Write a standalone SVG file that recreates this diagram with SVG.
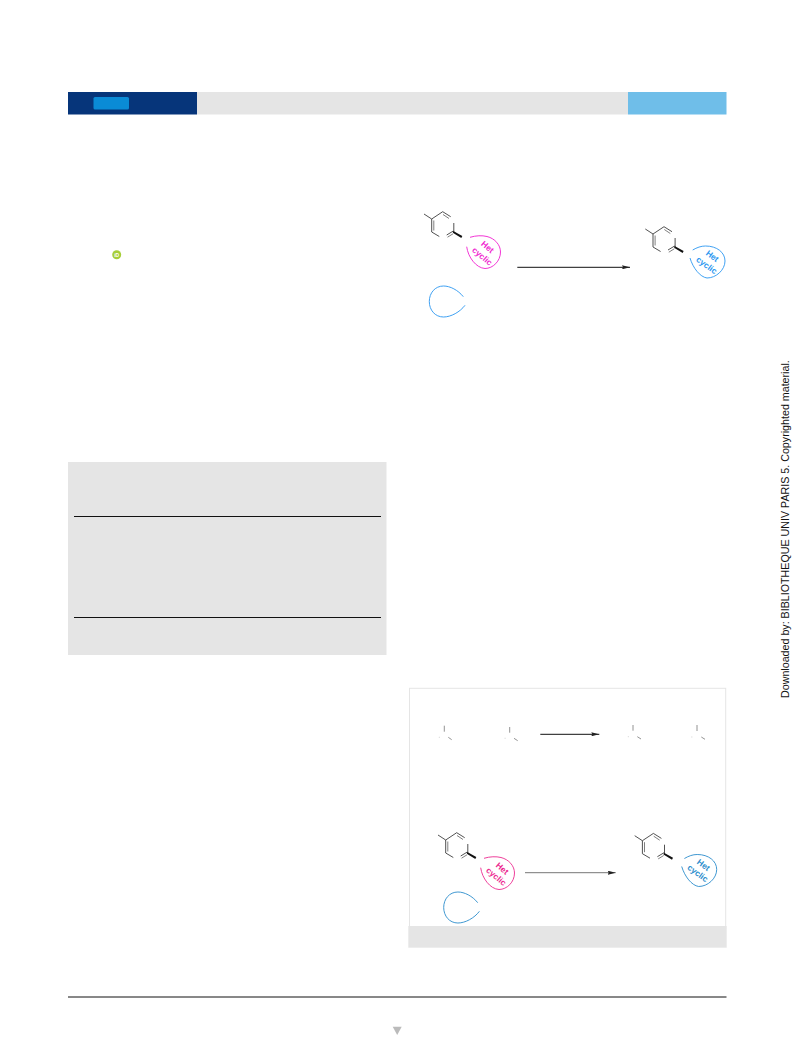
<svg xmlns="http://www.w3.org/2000/svg" width="793" height="1059" viewBox="0 0 793 1059">
<style>
.bond{fill:none;stroke:#333;stroke-width:.85}
.bond2{fill:none;stroke:#555;stroke-width:.75}
.wedge{fill:#111}
.blob{fill:none;stroke-width:.9}
.het{font-family:"Liberation Sans",Arial,sans-serif;font-weight:700;font-size:8.4px;text-anchor:middle}
.pink1{stroke:#f01fd0}.pink1t{fill:#f01fd0}
.blue1{stroke:#2a96f0}.blue1t{fill:#2a96f0}
.pink2{stroke:#ec2a90}.pink2t{fill:#ec2a90}
.blue2{stroke:#2a8ccc}.blue2t{fill:#2a8ccc}
.tick{stroke:#777;stroke-width:.8;fill:none}
.dot{stroke:#ccc;stroke-width:.7;fill:none}
.gray{fill:#e5e5e5}
.rule{stroke:#111;stroke-width:1;fill:none}
</style>
<defs>
<g id="mol">
<path class="bond" d="M424 214L431.700 219L442.700 211.700L450.700 216.700M453.800 223V232M446.700 235L453.300 231M431.700 219V232L439.300 236.500"/>
<path class="bond2" d="M443 214.500L449 218.500M433.800 220.500V230.500M447.500 237.200L453 233.800"/>
<polygon class="wedge" points="453.300,231 462.300,236 461.300,238 452.800,232.800"/>
</g>
<path id="blobL" d="M470 237.300C476 235.500 482 235.300 487 236.500C495 238.500 500.500 245 500.500 252C500.500 261 493 268.500 485 268.500C476 268 468 257 466.700 246.700"/>
<path id="blobR" d="M692.700 250C697 247.500 701 246 705.500 246C717 246 725 252.500 725 261C725 270 716 278 707 278C700 277 693 268 690 258"/>
<path id="loopshape" d="M463.300 296.700C458 290 450 286 443.500 286C435 286 429.300 293 429.300 301.500C429.300 310 435 317 443.500 317C451 317 460 312 465 305.300"/>
<marker id="ah" viewBox="0 0 8 4" refX="8" refY="2" markerWidth="8" markerHeight="4" markerUnits="userSpaceOnUse" orient="auto"><path d="M0 0L8 2L0 4L1 2Z" fill="#222"/></marker>
</defs>

<g id="header">
<rect x="68" y="92" width="129" height="22.500" fill="#06357a"/>
<rect x="93.500" y="97" width="35.500" height="12.500" rx="1.500" fill="#0a8bd6"/>
<rect class="gray" x="197" y="92" width="431" height="22.500"/>
<rect x="628" y="92" width="98.500" height="22.500" fill="#6fbee9"/>
</g>

<g id="orcid">
<circle cx="116.700" cy="254.700" r="4.500" fill="#a6ce39"/>
<text x="116.700" y="256.600" font-family="Liberation Sans, Arial, sans-serif" font-size="5" font-weight="700" text-anchor="middle" fill="#fff">iD</text>
</g>

<g id="table">
<rect class="gray" x="68" y="462" width="318.500" height="193"/>
<line class="rule" x1="74" y1="516.500" x2="381" y2="516.500"/>
<line class="rule" x1="74" y1="617.500" x2="381" y2="617.500"/>
</g>

<g id="top-reactant">
<use href="#mol"/>
<use href="#blobL" class="blob pink1"/>
<g class="pink1t">
<text class="het" transform="translate(485.700 249.100) rotate(40)">Het</text>
<text class="het" transform="translate(480.400 258.600) rotate(40)">cyclic</text>
</g>
</g>
<g id="top-reagent"><use href="#loopshape" class="blob blue1"/></g>
<g id="top-product">
<use href="#mol" transform="translate(221.300 15)"/>
<use href="#blobR" class="blob blue1"/>
<g class="blue1t">
<text class="het" transform="translate(710.600 258.400) rotate(36)">Het</text>
<text class="het" transform="translate(705 267.600) rotate(36)">cyclic</text>
</g>
</g>

<g id="scheme-frame">
<rect x="409.500" y="688.300" width="316.200" height="240" fill="none" stroke="#e5e5e5" stroke-width="1"/>
<rect class="gray" x="408.300" y="926" width="318.400" height="21.700"/>
</g>

<g id="fragment-1"><path class="tick" d="M444.300 725.700V731.700M448.300 737.300L451.700 739.700"/><path class="dot" d="M438.800 737.300H440"/></g>
<g id="fragment-2"><path class="tick" d="M509.700 727V732.700M514 738.300L517.700 740.700"/><path class="dot" d="M504.500 738.300H505.700"/></g>
<g id="fragment-3"><path class="tick" d="M633 725V730.700M637.300 736.700L641 739"/><path class="dot" d="M627.800 736.700H629"/></g>
<g id="fragment-4"><path class="tick" d="M697 725V731M701.300 737L705 739.300"/><path class="dot" d="M691.200 737H692.400"/></g>

<g id="bottom-reactant">
<use href="#mol" transform="translate(14 621)"/>
<use href="#blobL" class="blob pink2" transform="translate(14 621)"/>
<g class="pink2t">
<text class="het" transform="translate(500.400 870.600) rotate(40)">Het</text>
<text class="het" transform="translate(494.400 878.800) rotate(40)">cyclic</text>
</g>
</g>
<g id="bottom-reagent"><use href="#loopshape" class="blob blue2" transform="translate(14.400 606)"/></g>
<g id="bottom-product">
<use href="#mol" transform="translate(210.700 621.700)"/>
<use href="#blobR" class="blob blue2" transform="translate(-8.300 608.500)"/>
<g class="blue2t">
<text class="het" transform="translate(701.700 867.300) rotate(36)">Het</text>
<text class="het" transform="translate(696.100 875.600) rotate(36)">cyclic</text>
</g>
</g>

<g id="connectors">
<line x1="517.300" y1="267.300" x2="630" y2="267.300" stroke="#111" stroke-width="1" marker-end="url(#ah)"/>
<line x1="540.300" y1="734.300" x2="599.300" y2="734.300" stroke="#111" stroke-width="1" marker-end="url(#ah)"/>
<line x1="525" y1="872.700" x2="615.700" y2="872.700" stroke="#777" stroke-width="1" marker-end="url(#ah)"/>
</g>

<g id="footer">
<line x1="68" y1="997" x2="726.500" y2="997" stroke="#111" stroke-width="1"/>
<polygon points="392.700,1026.700 401.700,1026.700 397.200,1035" fill="#bbb"/>
</g>

<text id="watermark" transform="translate(789 698) rotate(-90)" font-family="Liberation Sans, Arial, sans-serif" font-size="10.700" fill="#111">Downloaded by: BIBLIOTHEQUE UNIV PARIS 5. Copyrighted material.</text>
</svg>
